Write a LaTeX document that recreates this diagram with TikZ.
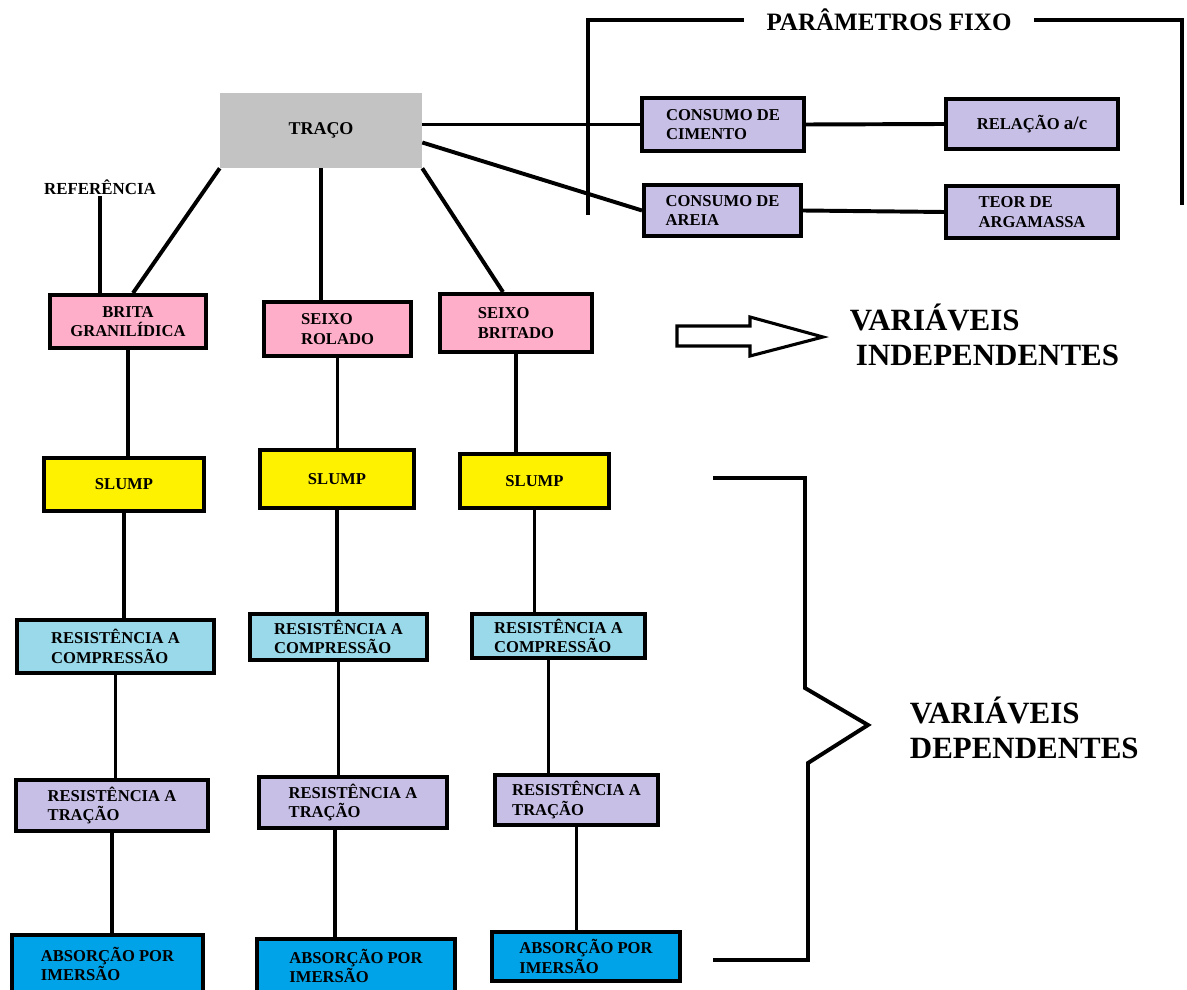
\documentclass[tikz,border=0pt]{standalone}
\usepackage{fontspec}
\setmainfont{Liberation Serif}
\usepackage{xcolor}
\usepackage{tikz}
\usetikzlibrary{positioning}

\definecolor{grau}{RGB}{195,195,195}
\definecolor{rosa}{RGB}{255,174,201}
\definecolor{gelb}{RGB}{255,242,0}
\definecolor{hellblau}{RGB}{153,217,234}
\definecolor{lila}{RGB}{200,191,231}
\definecolor{blau}{RGB}{0,162,232}

\begin{document}
\begin{tikzpicture}[x=0.025cm, y=-0.025cm,
    kasten/.style={draw, line width=2.8pt, rectangle, align=left, inner sep=2pt, font=\bfseries\fontsize{11.8}{14}\selectfont},
    linie/.style={line width=2.8pt},
    titel/.style={font=\bfseries\fontsize{22}{25}\selectfont, align=left, anchor=west}]

    \useasboundingbox (0,0) rectangle (1187,990);

    % Traço und Referenz
    \node (Traco) at (321,130.5) [fill=grau, minimum width=5.05cm, minimum height=1.875cm, font=\bfseries\fontsize{12.8}{15}\selectfont] {TRAÇO};
    \node (Referencia) at (100,187) [font=\bfseries\fontsize{12}{14}\selectfont, inner sep=1pt] {REFERÊNCIA};

    % Parameter
    \node (Fixo) at (889,20) [font=\bfseries\fontsize{17.8}{20}\selectfont, inner xsep=0.55cm] {PARÂMETROS FIXO};
    \node (Cimento) at (723,124.5) [kasten, fill=lila, minimum width=4.05cm, minimum height=1.325cm] {CONSUMO DE\\CIMENTO};
    \node (Relacao) at (1032,124) [kasten, fill=lila, minimum width=4.3cm, minimum height=1.25cm] {RELAÇÃO {\fontsize{13.5}{14}\selectfont a/c}};
    \node (Areia) at (722.5,210.5) [kasten, fill=lila, minimum width=3.925cm, minimum height=1.275cm] {CONSUMO DE\\AREIA};
    \node (Teor) at (1032,212) [kasten, fill=lila, minimum width=4.3cm, minimum height=1.3cm] {TEOR DE\\ARGAMASSA};
    \coordinate (FixoL) at (588,215);
    \coordinate (FixoR) at (1182,205);

    % Agregados
    \node (Brita) at (128,321.5) [kasten, fill=rosa, align=center, minimum width=3.9cm, minimum height=1.325cm] {BRITA\\GRANILÍDICA};
    \node (SeixoRolado) at (337.5,329) [kasten, fill=rosa, minimum width=3.675cm, minimum height=1.35cm] {SEIXO\\ROLADO};
    \node (SeixoBritado) at (516,323) [kasten, fill=rosa, minimum width=3.8cm, minimum height=1.45cm] {SEIXO\\BRITADO};

    % Slump
    \node (Slump1) at (124,484.5) [kasten, fill=gelb, minimum width=4cm, minimum height=1.325cm] {SLUMP};
    \node (Slump2) at (337,479) [kasten, fill=gelb, minimum width=3.85cm, minimum height=1.45cm] {SLUMP};
    \node (Slump3) at (534.5,481) [kasten, fill=gelb, minimum width=3.725cm, minimum height=1.35cm] {SLUMP};

    % Compressão
    \node (Compressao1) at (115.5,646.5) [kasten, fill=hellblau, minimum width=4.925cm, minimum height=1.325cm] {RESISTÊNCIA A\\COMPRESSÃO};
    \node (Compressao2) at (338.5,637) [kasten, fill=hellblau, minimum width=4.425cm, minimum height=1.15cm] {RESISTÊNCIA A\\COMPRESSÃO};
    \node (Compressao3) at (558.5,636) [kasten, fill=hellblau, minimum width=4.325cm, minimum height=1.1cm] {RESISTÊNCIA A\\COMPRESSÃO};

    % Tração
    \node (Tracao1) at (112,805.5) [kasten, fill=lila, minimum width=4.8cm, minimum height=1.275cm] {RESISTÊNCIA A\\TRAÇÃO};
    \node (Tracao2) at (353,802.5) [kasten, fill=lila, minimum width=4.7cm, minimum height=1.275cm] {RESISTÊNCIA A\\TRAÇÃO};
    \node (Tracao3) at (576.5,800) [kasten, fill=lila, minimum width=4.075cm, minimum height=1.25cm] {RESISTÊNCIA A\\TRAÇÃO};

    % Absorção
    \node (Absorcao1) at (107.5,964) [kasten, fill=blau, minimum width=4.775cm, minimum height=1.45cm] {ABSORÇÃO POR\\IMERSÃO};
    \node (Absorcao2) at (356,966) [kasten, fill=blau, minimum width=4.95cm, minimum height=1.35cm] {ABSORÇÃO POR\\IMERSÃO};
    \node (Absorcao3) at (586,956.5) [kasten, fill=blau, minimum width=4.7cm, minimum height=1.225cm] {ABSORÇÃO POR\\IMERSÃO};

    % Variáveis
    \node (Independentes) at (845,335) [titel] {VARIÁVEIS\\\hspace{0.15cm}INDEPENDENTES};
    \node (Dependentes) at (905,728) [titel] {VARIÁVEIS\\DEPENDENTES};

    % Verbindungslinien oben
    \draw[linie] (Referencia.south) -- (Referencia.south |- Brita.north);
    \draw[linie] (Traco.south west) -- ([xshift=0.125cm]Brita.north);
    \draw[linie] (Traco.south) -- (Traco.south |- SeixoRolado.north);
    \draw[linie] (Traco.south east) -- ([xshift=-0.325cm]SeixoBritado.north);
    \draw[linie] (Traco.east |- Cimento.west) -- (Cimento.west);
    \draw[linie] ([yshift=-0.3cm]Traco.east) -- (Areia.west);
    \draw[linie] (Cimento.east) -- (Relacao.west);
    \draw[linie] (Areia.east) -- (Teor.west);
    \draw[linie] (Fixo.west) -| (FixoL);
    \draw[linie] (Fixo.east) -| (FixoR);

    % Spalte 1
    \draw[linie] (Brita.south) -- (Brita.south |- Slump1.north);
    \draw[linie] (Slump1.south) -- (Slump1.south |- Compressao1.north);
    \draw[linie] (Compressao1.south) -- (Compressao1.south |- Tracao1.north);
    \draw[linie] (Tracao1.south) -- (Tracao1.south |- Absorcao1.north);

    % Spalte 2
    \draw[linie] (SeixoRolado.south) -- (SeixoRolado.south |- Slump2.north);
    \draw[linie] (Slump2.south) -- (Slump2.south |- Compressao2.north);
    \draw[linie] (Compressao2.south) -- (Compressao2.south |- Tracao2.north);
    \draw[linie] ([xshift=-0.45cm]Tracao2.south) -- ([xshift=-0.45cm]Tracao2.south |- Absorcao2.north);

    % Spalte 3
    \draw[linie] (SeixoBritado.south) -- (SeixoBritado.south |- Slump3.north);
    \draw[linie] (Slump3.south) -- (Slump3.south |- Compressao3.north);
    \draw[linie] ([xshift=-0.25cm]Compressao3.south) -- ([xshift=-0.25cm]Compressao3.south |- Tracao3.north);
    \draw[linie] (Tracao3.south) -- (Tracao3.south |- Absorcao3.north);

    % Pfeil und Klammer
    \draw[line width=2.2pt, line join=miter] (677,326) -- (750,326) -- (750,317) -- (823,337) -- (750,356) -- (750,346) -- (677,346) -- cycle;
    \draw[linie] (713,478) -- (805,478) -- (805,688) -- (868,725) -- (808,763) -- (808,960) -- (713,960);
\end{tikzpicture}
\end{document}
